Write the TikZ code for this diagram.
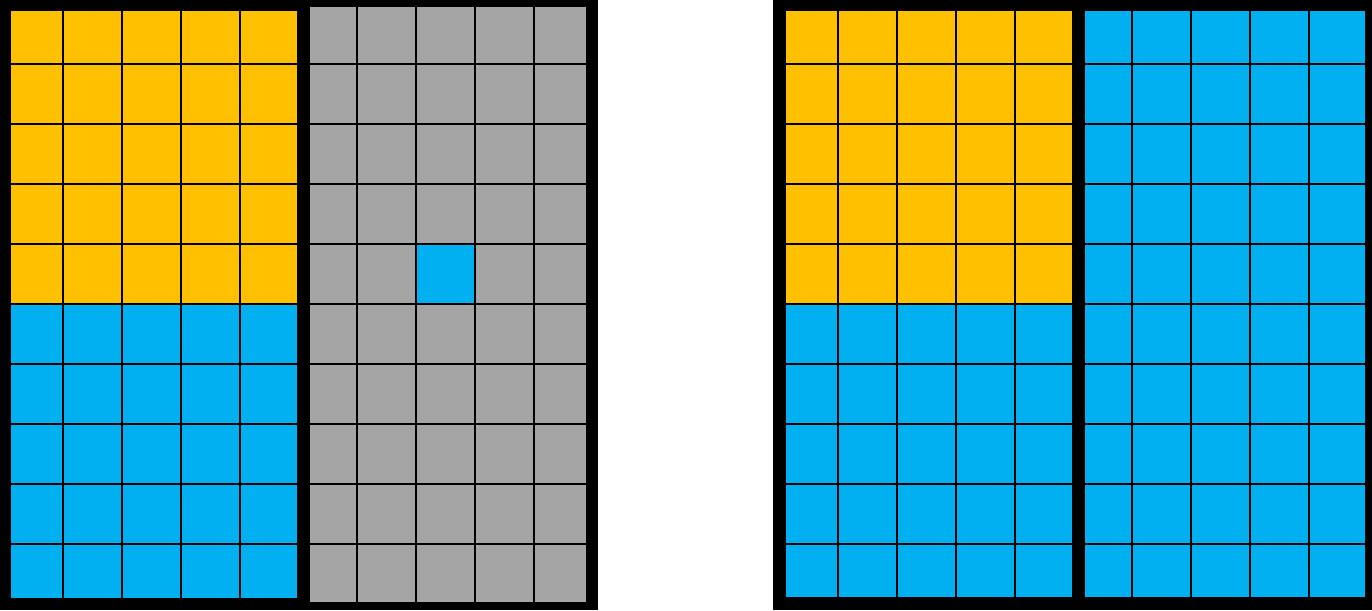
\documentclass[tikz,border=0pt]{standalone}
\definecolor{cyellow}{HTML}{FFC000}
\definecolor{cblue}{HTML}{00B0F0}
\definecolor{cgray}{HTML}{A5A5A5}
\begin{document}
\begin{tikzpicture}[x=1pt,y=-1pt,
  frame/.style={fill=black,draw=none},
  gridline/.style={draw=black,line width=2pt},
  yel/.style={fill=cyellow,draw=none},
  blu/.style={fill=cblue,draw=none},
  gry/.style={fill=cgray,draw=none}]
\useasboundingbox (0,0) rectangle (1372,610);
\fill[white] (0,0) rectangle (1372,610);
% frames
\path[frame] (0,0) rectangle (598,610);
\path[frame] (773,0) rectangle (1372,610);
% left panel, grid A
\path[yel] (11,11) rectangle (297,304);
\path[blu] (11,304) rectangle (297,598);
\foreach \x in {63,122,181,240} \draw[gridline] (\x,11) -- (\x,598);
\foreach \y in {64,124,184,244,304,364,424,484,544} \draw[gridline] (11,\y) -- (297,\y);
% left panel, gray grid
\path[gry] (310,7) rectangle (586,602);
\path[blu] (416,244) rectangle (475,304);
\foreach \x in {357,416,475,534} \draw[gridline] (\x,7) -- (\x,602);
\foreach \y in {64,124,184,244,304,364,424,484,544} \draw[gridline] (310,\y) -- (586,\y);
% right panel, grid A
\path[yel] (786,11) rectangle (1072,304);
\path[blu] (786,304) rectangle (1072,597);
\foreach \x in {838,897,956,1015} \draw[gridline] (\x,11) -- (\x,597);
\foreach \y in {64,124,184,244,304,364,424,484,544} \draw[gridline] (786,\y) -- (1072,\y);
% right panel, grid B
\path[blu] (1085,11) rectangle (1365,597);
\foreach \x in {1132,1191,1250,1309} \draw[gridline] (\x,11) -- (\x,597);
\foreach \y in {64,124,184,244,304,364,424,484,544} \draw[gridline] (1085,\y) -- (1365,\y);
\end{tikzpicture}
\end{document}
